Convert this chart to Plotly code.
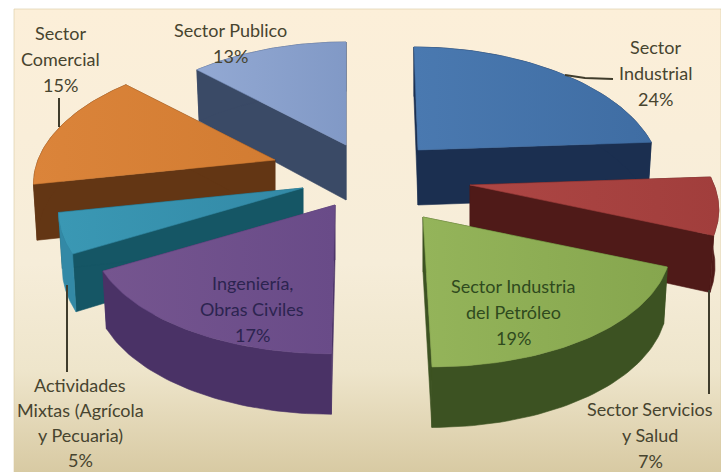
import numpy as np
import plotly.graph_objects as go

# ---------- data ----------
categories = ["Sector Industrial", "Sector Servicios y Salud", "Sector Industria del Petróleo",
              "Ingeniería, Obras Civiles", "Actividades Mixtas (Agrícola y Pecuaria)",
              "Sector Comercial", "Sector Publico"]
values = [24, 7, 19, 17, 5, 15, 13]
label_lines = [["Sector", "Industrial", "24%"],
               ["Sector Servicios", "y Salud", "7%"],
               ["Sector Industria", "del Petróleo", "19%"],
               ["Ingeniería,", "Obras Civiles", "17%"],
               ["Actividades", "Mixtas (Agrícola", "y Pecuaria)", "5%"],
               ["Sector", "Comercial", "15%"],
               ["Sector Publico", "13%"]]

# ---------- style and layout ----------
W, H = 721, 472
apex = [(418, 150), (470, 185), (423, 217), (335, 205), (303, 188), (275, 160), (346, 145)]
size_scale = [1.0, 1.03, 1.02, 1.012, 1.012, 1.0, 1.0]
skew = [0.04, 0.0, 0.06, -0.025, 0.0, 0.0, 0.0]
RX, RY, PERSP_X, PERSP_Y, DEPTH, BOTTOM_SHRINK = 237, 125, 0.2, 0.176, 55, 0.985
top_a = ["#4A79B0", "#AD4644", "#94B45A", "#75558F", "#3A98B4", "#DB843A", "#93A9D3"]
top_b = ["#3F6DA3", "#A13E3C", "#86A64E", "#694B88", "#3389A6", "#D27C32", "#8199C6"]
cut = ["#1B2F50", "#4F1A18", "#3C5222", "#4A3266", "#155665", "#633614", "#3A4A66"]
rim = ["#1B2F50", "#4F1A18", "#3C5222", "#4A3266", "#3389A6", "#633614", "#3A4A66"]
order = [6, 0, 5, 1, 4, 3, 2]          # painter's order, back to front
label_pos = [(655, 47), (650, 409), (513, 286), (252, 283), (80, 385), (60, 33), (230, 30)]
label_col = ["#47442F", "#47442F", "#2F4A1E", "#2C2450", "#47442F", "#47442F", "#47442F"]
label_step = [26, 26, 26, 26, 25, 26, 26]
leaders = [([565, 585, 613], [75, 78, 79]), ([709, 709], [290, 394]),
           ([67, 67], [285, 372]), ([59, 59], [98, 127])]
bg_scale = [[0, "#FCEFD9"], [0.55, "#F6EDD9"], [0.78, "#EEE5CB"], [1, "#D8CAA3"]]

# ---------- geometry derived from the values ----------
bounds = np.cumsum([0] + values) / sum(values) * 2 * np.pi


def project(theta, ax, ay, scale, sk, down=0.0):
    s, c = np.sin(theta), np.cos(theta)
    x = RX * scale * s * (1 - PERSP_X * c)
    y = -RY * scale * c * (1 - PERSP_Y * c)
    x = x + sk * y
    if down:
        return ax + x * BOTTOM_SHRINK, ay + y + down * (1 - 0.1 * c)
    return ax + x, ay + y


def poly(x, y):
    return list(x) + [x[0]], list(y) + [y[0]]


fig = go.Figure()


def add_poly(x, y, color=None, grad=None):
    px, py = poly(x, y)
    kw = dict(fillgradient=grad) if grad else dict(fillcolor=color)
    fig.add_trace(go.Scatter(x=px, y=py, mode="lines", fill="toself",
                             line=dict(width=0.6, color=color or grad["colorscale"][-1][1]),
                             hoverinfo="skip", showlegend=False, **kw))


# background panel
add_poly([14, W, W, 14], [9, 9, H, H],
         grad=dict(type="vertical", colorscale=bg_scale, start=9, stop=H))

for i in order:
    ax, ay = apex[i]
    t = np.linspace(bounds[i], bounds[i + 1], 50)
    tx, ty = project(t, ax, ay, size_scale[i], skew[i])
    bx, by = project(t, ax, ay, size_scale[i], skew[i], DEPTH)
    # the two cut faces
    for j in (0, -1):
        add_poly([ax, tx[j], bx[j], ax], [ay, ty[j], by[j], ay + DEPTH], color=cut[i])
    # outer rim
    add_poly(np.r_[tx, bx[::-1]], np.r_[ty, by[::-1]], color=rim[i])
    # top surface
    add_poly(np.r_[ax, tx], np.r_[ay, ty],
             grad=dict(type="horizontal", colorscale=[[0, top_a[i]], [1, top_b[i]]]))

for lx, ly in leaders:
    fig.add_trace(go.Scatter(x=lx, y=ly, mode="lines", hoverinfo="skip", showlegend=False,
                             line=dict(color="#3F3C2C", width=2)))

annotations = []
for lines, (x0, y0), col, step in zip(label_lines, label_pos, label_col, label_step):
    for n, txt in enumerate(lines):
        annotations.append(dict(x=x0, y=y0 + n * step, text=txt, showarrow=False,
                                xref="x", yref="y", font=dict(family="Lato", size=18, color=col)))

fig.update_layout(width=W, height=H, autosize=False,
                  margin=dict(l=0, r=0, t=0, b=0), paper_bgcolor="white", plot_bgcolor="white",
                  xaxis=dict(range=[0, W], visible=False, fixedrange=True),
                  yaxis=dict(range=[H, 0], visible=False, fixedrange=True),
                  showlegend=False, annotations=annotations)
fig.write_html("out.html", config=dict(displayModeBar=False),
               post_script="document.body.style.margin='0';document.documentElement.style.overflow='hidden';")
